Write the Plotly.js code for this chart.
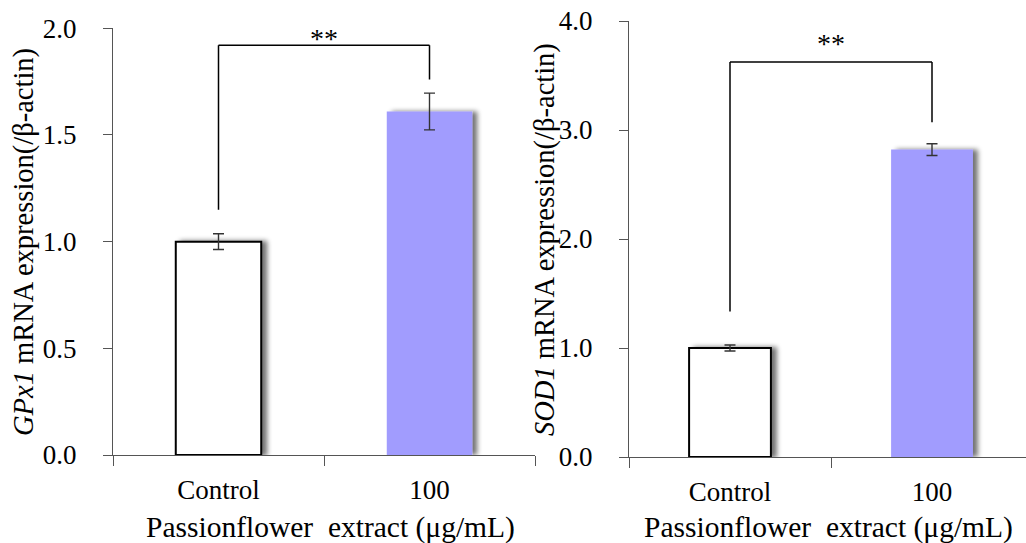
<!DOCTYPE html>
<html>
<head>
<meta charset="utf-8">
<script src="https://cdn.plot.ly/plotly-3.0.1.min.js"></script>
<style>
  html, body { margin: 0; padding: 0; background: #fff; }
  #chart { width: 1026px; height: 543px; }
</style>
</head>
<body>
<div id="chart"></div>
<script>
// Relative mRNA expression after passionflower extract treatment
const categories = ['Control', '100'];
const gpx1Mean = [1.00, 1.61];
const gpx1Err = [0.037, 0.086];
const sod1Mean = [1.00, 2.82];
const sod1Err = [0.027, 0.054];
const barFills = ['#ffffff', '#a19cfe'];
const barOutlines = ['#000000', 'rgba(0,0,0,0)'];
const barOutlineWidths = [2, 0];

// significance brackets: [left arm end, right arm end], bar height
const gpx1BracketEnds = [1.15, 1.76];
const gpx1BracketTop = 1.92;
const sod1BracketEnds = [1.335, 3.07];
const sod1BracketTop = 3.625;
const sigLabel = '**';

const gpx1Title = '<i>GPx1</i> mRNA expression(/β-actin)';
const sod1Title = '<i>SOD1</i> mRNA expression(/β-actin)';
const xTitle = 'Passionflower\u00a0\u00a0extract (μg/mL)';

const FONT = '"Liberation Serif", "Times New Roman", Times, serif';
const W = 1026, H = 543;
const px = v => v / W;
const py = v => 1 - v / H;

function barTrace(means, errs, xa, ya) {
  return {
    type: 'bar',
    x: categories,
    y: means,
    xaxis: xa,
    yaxis: ya,
    width: 0.405,
    marker: { color: barFills, line: { color: barOutlines, width: barOutlineWidths } },
    error_y: { type: 'data', array: errs, visible: true, color: '#333', thickness: 1.4, width: 5.5 },
    hoverinfo: 'skip'
  };
}

const traces = [
  barTrace(gpx1Mean, gpx1Err, 'x', 'y'),
  barTrace(sod1Mean, sod1Err, 'x2', 'y2')
];

function bracket(ends, top, xref, yref) {
  const line = { color: '#000', width: 1.5 };
  return [
    { type: 'line', xref, yref, x0: 0, x1: 0, y0: ends[0], y1: top, line },
    { type: 'line', xref, yref, x0: 0, x1: 1, y0: top, y1: top, line },
    { type: 'line', xref, yref, x0: 1, x1: 1, y0: ends[1], y1: top, line }
  ];
}

const xBase = {
  type: 'category',
  showline: true, linecolor: '#555', linewidth: 1,
  ticks: 'outside', tickson: 'boundaries', ticklen: 10, tickcolor: '#555', tickwidth: 1,
  showgrid: false, zeroline: false,
  tickfont: { family: FONT, size: 27, color: '#000' },
  ticklabelstandoff: 11,
  fixedrange: true
};
const yBase = {
  showline: true, linecolor: '#555', linewidth: 1,
  ticks: 'outside', ticklen: 9, tickcolor: '#555', tickwidth: 1,
  showgrid: false, zeroline: false,
  tickformat: '.1f',
  tickfont: { family: FONT, size: 27, color: '#000' },
  ticklabelstandoff: 21,
  fixedrange: true
};

const layout = {
  width: W, height: H,
  margin: { l: 0, r: 0, t: 0, b: 0 },
  paper_bgcolor: '#fff', plot_bgcolor: 'rgba(0,0,0,0)',
  showlegend: false,
  font: { family: FONT, color: '#000' },
  xaxis: Object.assign({}, xBase, { domain: [px(113), px(535)], range: [-0.5, 1.5], anchor: 'y' }),
  yaxis: Object.assign({}, yBase, { domain: [py(455), py(28.3)], range: [0, 2], dtick: 0.5, anchor: 'x' }),
  xaxis2: Object.assign({}, xBase, { domain: [px(629), 1], range: [-0.5, 1.5 - 7 / 202], anchor: 'y2' }),
  yaxis2: Object.assign({}, yBase, { domain: [py(457), py(21)], range: [0, 4], dtick: 1, anchor: 'x2' }),
  shapes: [].concat(
    bracket(gpx1BracketEnds, gpx1BracketTop, 'x', 'y'),
    bracket(sod1BracketEnds, sod1BracketTop, 'x2', 'y2')
  ),
  annotations: [
    { xref: 'x', yref: 'y', x: 0.5, y: gpx1BracketTop, text: sigLabel, showarrow: false,
      yanchor: 'bottom', yshift: -11, font: { family: FONT, size: 28 } },
    { xref: 'x2', yref: 'y2', x: 0.5, y: sod1BracketTop, text: sigLabel, showarrow: false,
      yanchor: 'bottom', yshift: 1, font: { family: FONT, size: 28 } },
    { xref: 'paper', yref: 'paper', x: px(24), y: py(242), text: gpx1Title, textangle: -90,
      showarrow: false, xanchor: 'center', yanchor: 'middle', font: { family: FONT, size: 28.5 } },
    { xref: 'paper', yref: 'paper', x: px(545), y: py(240), text: sod1Title, textangle: -90,
      showarrow: false, xanchor: 'center', yanchor: 'middle', font: { family: FONT, size: 28.5 } },
    { xref: 'paper', yref: 'paper', x: px(330), y: py(527), text: xTitle,
      showarrow: false, xanchor: 'center', yanchor: 'middle', font: { family: FONT, size: 29.5 } },
    { xref: 'paper', yref: 'paper', x: px(828), y: py(527), text: xTitle,
      showarrow: false, xanchor: 'center', yanchor: 'middle', font: { family: FONT, size: 29.5 } }
  ]
};

// soft drop shadow to the right of each bar
function addBarShadows(gd) {
  const svg = gd.querySelector('svg.main-svg');
  if (!svg) return;
  const ns = 'http://www.w3.org/2000/svg';
  let defs = svg.querySelector('defs');
  if (!defs) { defs = document.createElementNS(ns, 'defs'); svg.insertBefore(defs, svg.firstChild); }
  const f = document.createElementNS(ns, 'filter');
  f.setAttribute('id', 'barShadow');
  f.setAttribute('x', '-20%'); f.setAttribute('y', '-10%');
  f.setAttribute('width', '150%'); f.setAttribute('height', '120%');
  f.innerHTML =
    '<feGaussianBlur in="SourceAlpha" stdDeviation="2.6" result="b"/>' +
    '<feOffset in="b" dx="4.5" dy="0" result="o"/>' +
    '<feComponentTransfer in="o" result="s"><feFuncA type="linear" slope="0.55"/></feComponentTransfer>' +
    '<feMerge><feMergeNode in="s"/><feMergeNode in="SourceGraphic"/></feMerge>';
  defs.appendChild(f);
  gd.querySelectorAll('.barlayer .point path').forEach(p => p.setAttribute('filter', 'url(#barShadow)'));
}

Plotly.newPlot('chart', traces, layout, { displayModeBar: false, staticPlot: true })
  .then(addBarShadows);
</script>
</body>
</html>
